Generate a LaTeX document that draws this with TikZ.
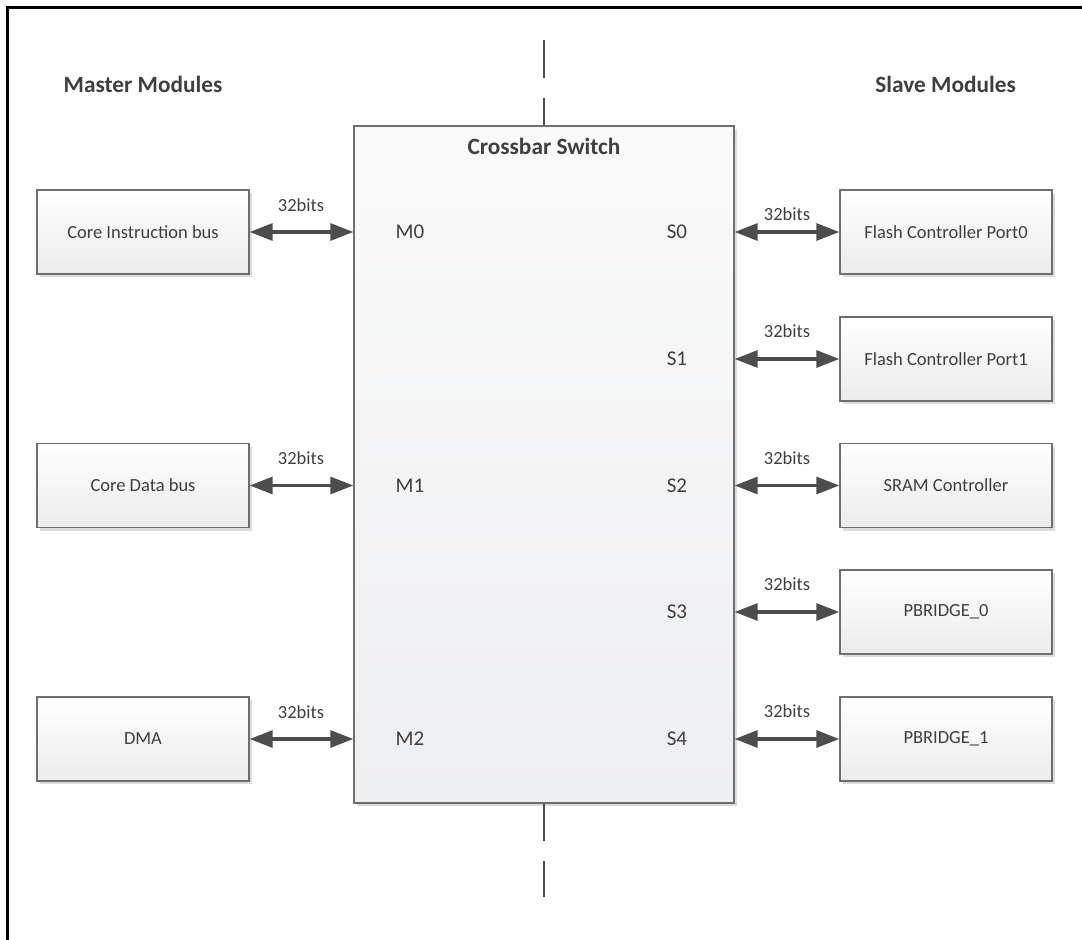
\documentclass[tikz,border=0pt]{standalone}
\usepackage{fontspec}
\setmainfont{Carlito}
\usetikzlibrary{arrows.meta,shadows}

\definecolor{txt}{HTML}{3F3F3F}
\definecolor{edge}{HTML}{6E6E6E}
\definecolor{link}{HTML}{4D4D4D}
\definecolor{shade}{HTML}{DCDCDC}
\definecolor{boxlow}{HTML}{ECECEC}
\definecolor{barlow}{HTML}{EEEFF1}

\tikzset{
  heading/.style={text=txt, font=\fontsize{23.3}{27}\selectfont\bfseries, inner sep=0pt},
  module/.style={draw=edge, line width=1.4pt, top color=white, bottom color=boxlow,
    minimum width=212pt, minimum height=84pt, inner sep=0pt,
    text=txt, font=\fontsize{18.5}{22}\selectfont,
    drop shadow={shadow xshift=3pt, shadow yshift=-3pt, fill=shade, opacity=1}},
  switchbox/.style={draw=edge, line width=1.4pt, top color=white!98!black, bottom color=barlow,
    minimum width=380pt, minimum height=677pt, inner sep=0pt,
    drop shadow={shadow xshift=3pt, shadow yshift=-3pt, fill=shade, opacity=1}},
  port/.style={text=txt, font=\fontsize{21}{25}\selectfont, inner sep=0pt},
  width/.style={text=txt, font=\fontsize{18.5}{22}\selectfont, inner sep=0pt},
  bus/.style={draw=link, line width=3.2pt,
    {Triangle[length=23pt,width=17pt]}-{Triangle[length=23pt,width=17pt]}},
  axis/.style={draw=link, line width=2.5pt},
  frame/.style={draw=black, line width=2.6pt}
}

\begin{document}
\begin{tikzpicture}[x=1pt, y=-1pt]
\useasboundingbox (0,0) rectangle (1082,940);

% outer frame (top and left edges)
\coordinate (fr-tr) at (1090,7.5);
\coordinate (fr-tl) at (7.5,7.5);
\coordinate (fr-bl) at (7.5,950);
\draw[frame] (fr-tr) -- (fr-tl) -- (fr-bl);

% column headings
\node[heading] (mhead) at (143,84.5) {Master Modules};
\node[heading, anchor=east] (shead) at (1016,84.5) {Slave Modules};

% crossbar switch
\node[switchbox] (xbar) at (544,464.5) {};
\node[heading] (xtitle) at (544,146) {Crossbar Switch};

% dashed centre axis
\coordinate (axtop) at (544,40);
\coordinate (axbot) at (544,897);
\draw[axis, dash pattern=on 38pt off 20pt] (axtop) -- (xbar.north);
\draw[axis, dash pattern=on 37pt off 20pt] (xbar.south) -- (axbot);

% master modules
\node[module] (m0) at (143,232) {Core Instruction bus};
\node[module] (m1) at (143,485.5) {Core Data bus};
\node[module] (m2) at (143,739) {DMA};

% slave modules
\node[module] (s0) at (946,232) {Flash Controller Port0};
\node[module] (s1) at (946,359) {Flash Controller Port1};
\node[module] (s2) at (946,485.5) {SRAM Controller};
\node[module] (s3) at (946,612) {PBRIDGE\_0};
\node[module] (s4) at (946,739) {PBRIDGE\_1};

% port labels inside the switch
\node[port] (pm0) at (410,232) {M0};
\node[port] (pm1) at (410,485.5) {M1};
\node[port] (pm2) at (410,739) {M2};
\node[port] (ps0) at (677,232) {S0};
\node[port] (ps1) at (677,359) {S1};
\node[port] (ps2) at (677,485.5) {S2};
\node[port] (ps3) at (677,612) {S3};
\node[port] (ps4) at (677,739) {S4};

% bus connections
\foreach \m in {m0,m1,m2} {
  \draw[bus] (\m.east) -- (\m.east -| xbar.west);
}
\foreach \s in {s0,s1,s2,s3,s4} {
  \draw[bus] (xbar.east |- \s.west) -- (\s.west);
}

% bus width labels
\node[width] (wm0) at (301,205) {32bits};
\node[width] (wm1) at (301,458) {32bits};
\node[width] (wm2) at (301,712) {32bits};
\node[width] (ws0) at (787,214) {32bits};
\node[width] (ws1) at (787,331) {32bits};
\node[width] (ws2) at (787,458) {32bits};
\node[width] (ws3) at (787,584) {32bits};
\node[width] (ws4) at (787,711) {32bits};
\end{tikzpicture}
\end{document}
